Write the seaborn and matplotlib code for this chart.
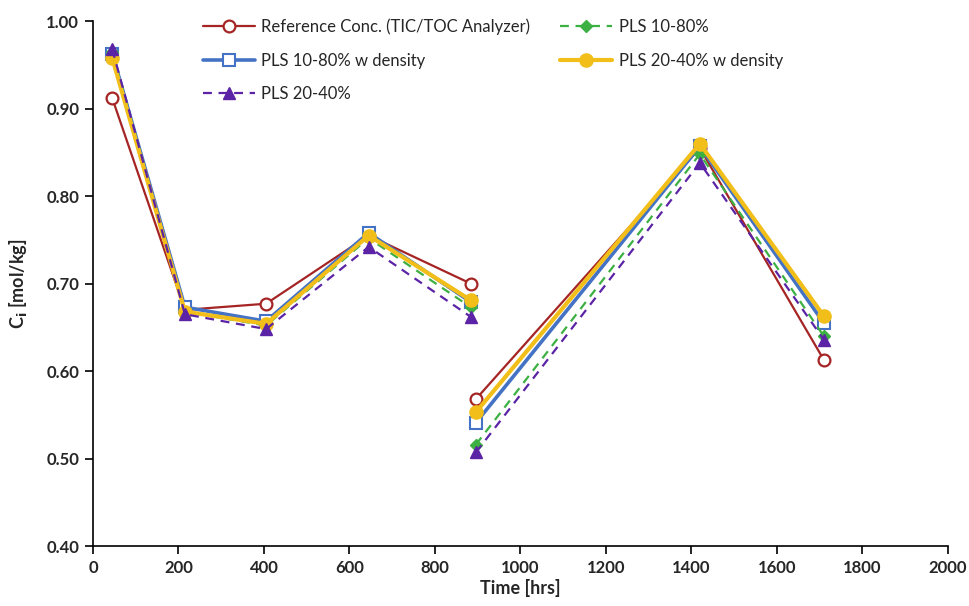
import matplotlib
matplotlib.use("Agg")
import matplotlib.pyplot as plt
import seaborn as sns
import pandas as pd
from matplotlib.lines import Line2D

# ---- data ----
time_seg1 = [45, 215, 405, 645, 884]
time_seg2 = [896, 1420, 1710]

ref_conc = [0.912, 0.670, 0.677, 0.755, 0.700, 0.568, 0.855, 0.613]
pls_1080_dens = [0.963, 0.673, 0.657, 0.758, 0.679, 0.541, 0.857, 0.655]
pls_1080 = [0.965, 0.668, 0.652, 0.752, 0.673, 0.516, 0.848, 0.640]
pls_2040_dens = [0.958, 0.668, 0.654, 0.755, 0.681, 0.553, 0.860, 0.663]
pls_2040 = [0.968, 0.665, 0.648, 0.742, 0.662, 0.507, 0.838, 0.636]

series_names = ["Reference Conc. (TIC/TOC Analyzer)", "PLS 10-80% w density",
                "PLS 20-40%", "PLS 10-80%", "PLS 20-40% w density"]
series_vals = [ref_conc, pls_1080_dens, pls_2040, pls_1080, pls_2040_dens]

x_ticks = [0, 200, 400, 600, 800, 1000, 1200, 1400, 1600, 1800, 2000]
y_ticks = [0.40, 0.50, 0.60, 0.70, 0.80, 0.90, 1.00]

rows = []
for name, vals in zip(series_names, series_vals):
    for i, t in enumerate(time_seg1 + time_seg2):
        rows.append({"series": name, "time": t, "value": vals[i],
                     "segment": 0 if i < len(time_seg1) else 1})
df = pd.DataFrame(rows)

styles = {
    "Reference Conc. (TIC/TOC Analyzer)": dict(color="#A52424", lw=1.6, ls="-", marker="o",
                                               ms=8.5, mfc="white", mew=1.6, z=3),
    "PLS 10-80% w density": dict(color="#4472C4", lw=2.6, ls="-", marker="s",
                                 ms=8.5, mfc="white", mew=1.5, z=4),
    "PLS 10-80%": dict(color="#3DB043", lw=1.6, ls=(0, (4, 3)), marker="D",
                       ms=6, mfc="#3DB043", mew=1, z=5),
    "PLS 20-40% w density": dict(color="#F2BE1A", lw=3.0, ls="-", marker="o",
                                 ms=9.5, mfc="#F2BE1A", mew=1, z=6),
    "PLS 20-40%": dict(color="#5B23A5", lw=1.6, ls=(0, (4, 3)), marker="^",
                       ms=8.5, mfc="#5B23A5", mew=1, z=7),
}

sns.set_theme(style="ticks")
plt.rcParams["font.family"] = ["Lato", "DejaVu Sans"]

fig = plt.figure(figsize=(9.69, 6.06), dpi=100)
ax = fig.add_axes([0.096, 0.099, 0.882, 0.866])

draw_order = ["Reference Conc. (TIC/TOC Analyzer)", "PLS 10-80% w density", "PLS 10-80%",
              "PLS 20-40% w density", "PLS 20-40%"]
for name in draw_order:
    st = styles[name]
    for seg in (0, 1):
        sub = df[(df["series"] == name) & (df["segment"] == seg)]
        sns.lineplot(data=sub, x="time", y="value", ax=ax, color=st["color"],
                     linewidth=st["lw"], linestyle=st["ls"], marker=st["marker"],
                     markersize=st["ms"], markerfacecolor=st["mfc"],
                     markeredgecolor=st["color"], markeredgewidth=st["mew"],
                     zorder=st["z"], legend=False, estimator=None, sort=False)

ax.set_xlim(0, 2000)
ax.set_ylim(0.40, 1.00)
ax.set_xticks(x_ticks)
ax.set_yticks(y_ticks)
ax.set_xticklabels([str(t) for t in x_ticks], fontsize=12, fontweight="bold")
ax.set_yticklabels([f"{v:.2f}" for v in y_ticks], fontsize=12, fontweight="bold")
ax.tick_params(axis="both", direction="out", length=6, width=1.2, color="black", pad=4)
for s in ["top", "right"]:
    ax.spines[s].set_visible(False)
for s in ["left", "bottom"]:
    ax.spines[s].set_color("black")
    ax.spines[s].set_linewidth(1.2)

ax.set_xlabel("Time [hrs]", fontsize=13, fontweight="bold", labelpad=2)
ax.set_ylabel(r"C$_\mathbf{i}$ [mol/kg]", fontsize=13, fontweight="bold", labelpad=12)

handles = []
for name in series_names:
    st = styles[name]
    handles.append(Line2D([0], [0], color=st["color"], lw=st["lw"], ls=st["ls"],
                          marker=st["marker"], ms=st["ms"], mfc=st["mfc"],
                          mec=st["color"], mew=st["mew"]))
leg = ax.legend(handles, series_names, ncol=2, loc="upper left",
                bbox_to_anchor=(0.1287, 1.005), frameon=False, fontsize=12,
                handlelength=3.1, columnspacing=1.8, labelspacing=1.05,
                handletextpad=0.4, borderpad=0, borderaxespad=0)

fig.savefig("out.png", dpi=100, facecolor="white")
